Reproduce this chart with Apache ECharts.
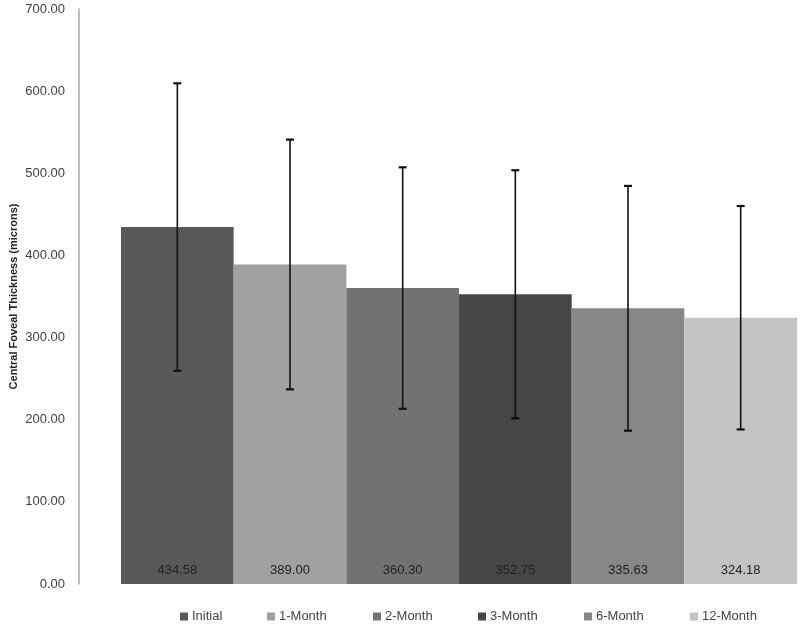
<!DOCTYPE html>
<html>
<head>
<meta charset="utf-8">
<script src="https://cdn.jsdelivr.net/npm/echarts@6/dist/echarts.min.js"></script>
<style>html,body{margin:0;padding:0;background:#fff;}#c{width:800px;height:626px;}</style>
</head>
<body>
<div id="c"></div>
<script>
var categories = ['Initial', '1-Month', '2-Month', '3-Month', '6-Month', '12-Month'];
var means = [434.58, 389.00, 360.30, 352.75, 335.63, 324.18];
var sds = [175, 152, 147, 151, 149, 136];
var colors = ['#595959', '#a0a0a0', '#727272', '#464646', '#878787', '#c3c3c3'];
var yTicks = [0, 100, 200, 300, 400, 500, 600, 700];
var legendLefts = [180, 267, 373, 478, 584, 690];
var FONT = 'Liberation Sans, Arial, sans-serif';

var series = categories.map(function (name, i) {
  var d = categories.map(function (c, j) { return j === i ? means[i] : '-'; });
  return {
    name: name,
    type: 'bar',
    stack: 'all',
    data: d,
    barCategoryGap: '0%',
    itemStyle: { color: colors[i] },
    label: {
      show: true,
      position: 'insideBottom',
      distance: 7,
      color: '#222',
      fontSize: 13,
      fontFamily: FONT,
      formatter: function (p) { return Number(p.value).toFixed(2); }
    },
    emphasis: { disabled: true }
  };
});

var errData = categories.map(function (c, i) { return [i, means[i] - sds[i], means[i] + sds[i]]; });
series.push({
  type: 'custom',
  name: 'err',
  z: 10,
  data: errData,
  renderItem: function (params, api) {
    var x = api.value(0);
    var lo = api.coord([x, api.value(1)]);
    var hi = api.coord([x, api.value(2)]);
    var hw = 4;
    var st = { stroke: '#111', lineWidth: 1.6 };
    return {
      type: 'group',
      children: [
        { type: 'line', shape: { x1: hi[0], y1: hi[1], x2: lo[0], y2: lo[1] }, style: st },
        { type: 'line', shape: { x1: hi[0] - hw, y1: hi[1], x2: hi[0] + hw, y2: hi[1] }, style: { stroke: '#111', lineWidth: 2.2 } },
        { type: 'line', shape: { x1: lo[0] - hw, y1: lo[1], x2: lo[0] + hw, y2: lo[1] }, style: { stroke: '#111', lineWidth: 2.2 } }
      ]
    };
  }
});

var legends = categories.map(function (name, i) {
  return {
    data: [name],
    left: legendLefts[i],
    top: 610,
    padding: 0,
    itemWidth: 8,
    itemHeight: 8,
    itemGap: 4,
    icon: 'rect',
    selectedMode: false,
    textStyle: { color: '#444', fontSize: 13, fontFamily: FONT, padding: [0, 0, 0, -1] }
  };
});

var chart = echarts.init(document.getElementById('c'), null, { renderer: 'canvas' });
chart.setOption({
  animation: false,
  backgroundColor: '#fff',
  grid: { left: 121, right: 3, top: 9, bottom: 42, containLabel: false, outerBoundsMode: 'none' },
  legend: legends,
  xAxis: {
    type: 'category',
    data: categories,
    axisLine: { show: false },
    axisTick: { show: false },
    axisLabel: { show: false }
  },
  yAxis: {
    type: 'value',
    min: yTicks[0],
    max: yTicks[yTicks.length - 1],
    interval: 100,
    offset: 42,
    name: 'Central Foveal Thickness (microns)',
    nameLocation: 'middle',
    nameGap: 60,
    nameMoveOverlap: false,
    nameTextStyle: { color: '#222', fontSize: 11, fontWeight: 'bold', fontFamily: FONT },
    axisLine: { show: true, lineStyle: { color: '#aaa', width: 1.5 } },
    axisTick: { show: false },
    splitLine: { show: false },
    axisLabel: {
      color: '#404040',
      fontSize: 13,
      margin: 14,
      fontFamily: FONT,
      formatter: function (v) { return v.toFixed(2); }
    }
  },
  series: series
});
</script>
</body>
</html>
